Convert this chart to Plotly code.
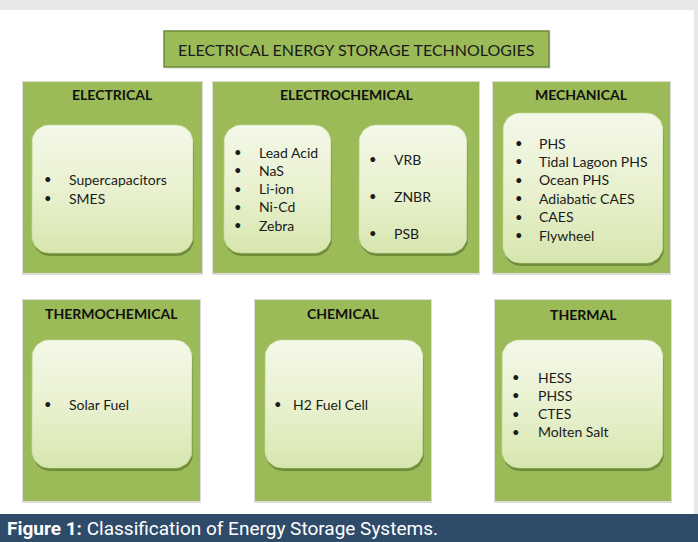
import numpy as np
import plotly.graph_objects as go

# ---------------- data ----------------
title_text = "ELECTRICAL ENERGY STORAGE TECHNOLOGIES"
categories = ["ELECTRICAL", "ELECTROCHEMICAL", "MECHANICAL",
              "THERMOCHEMICAL", "CHEMICAL", "THERMAL"]
electrical_items = ["Supercapacitors", "SMES"]
electrochem_batteries = ["Lead Acid", "NaS", "Li-ion", "Ni-Cd", "Zebra"]
electrochem_flow = ["VRB", "ZNBR", "PSB"]
mechanical_items = ["PHS", "Tidal Lagoon PHS", "Ocean PHS", "Adiabatic CAES", "CAES", "Flywheel"]
thermochemical_items = ["Solar Fuel"]
chemical_items = ["H2 Fuel Cell"]
thermal_items = ["HESS", "PHSS", "CTES", "Molten Salt"]
caption_bold = "Figure 1:"
caption_text = "Classification of Energy Storage Systems."

# ---------------- layout geometry (pixels) ----------------
W, H = 698, 542
GREEN = "#9bbb59"
FONT = "Lato"

panels = [  # x0, x1, y0, y1, header_y
    (23, 202, 82, 273, 94),
    (213, 479, 82, 273, 94),
    (493, 670, 82, 273, 94),
    (23, 200, 300, 501, 313),
    (255, 431, 300, 501, 313),
    (495, 671, 300, 501, 314),
]

# inner boxes: x0, x1, y0, y1, items, bullet_x, text_x, first_y, step
inner = [
    (32, 193, 125, 253, electrical_items, 48, 67, 179, 19),
    (224, 331, 125, 253, electrochem_batteries, 238, 257, 152, 18.3),
    (359, 467, 125, 253, electrochem_flow, 373, 392, 159, 37),
    (503, 663, 113, 263, mechanical_items, 519, 537, 143, 18.4),
    (32, 192, 340, 468, thermochemical_items, 48, 67, 404, 19),
    (265, 423, 340, 468, chemical_items, 278, 291, 404, 19),
    (502, 663, 340, 468, thermal_items, 516, 536, 377, 18.3),
]


def rounded(x0, x1, y0, y1, r=17, n=10):
    xs, ys = [], []
    corners = [(x1 - r, y0 + r, -90, 0), (x1 - r, y1 - r, 0, 90),
               (x0 + r, y1 - r, 90, 180), (x0 + r, y0 + r, 180, 270)]
    for cx, cy, a0, a1 in corners:
        for t in np.linspace(np.radians(a0), np.radians(a1), n):
            xs.append(cx + r * np.cos(t))
            ys.append(cy + r * np.sin(t))
    xs.append(xs[0]); ys.append(ys[0])
    return xs, ys


fig = go.Figure()
shapes = []
annotations = []

# background gray band at top and right strip
shapes.append(dict(type="rect", x0=0, x1=W, y0=0, y1=10, fillcolor="#e6e7e9",
                   line=dict(width=0), layer="below"))
shapes.append(dict(type="rect", x0=694, x1=W, y0=0, y1=514, fillcolor="#e6e7e9",
                   line=dict(width=0), layer="below"))

# title box
shapes.append(dict(type="rect", x0=166, x1=551, y0=33, y1=69, fillcolor="#e4e4e4",
                   line=dict(width=0), layer="below", opacity=0.7))
shapes.append(dict(type="rect", x0=164, x1=549, y0=31, y1=67, fillcolor=GREEN,
                   line=dict(width=1.5, color="#6d8a3a"), layer="below"))
annotations.append(dict(x=356, y=49, text=title_text, showarrow=False,
                        font=dict(family=FONT, size=16, color="#1a1a1a"),
                        xanchor="center", yanchor="middle"))

# panels
for (x0, x1, y0, y1, hy), cat in zip(panels, categories):
    shapes.append(dict(type="rect", x0=x0 - 1, x1=x1 + 1, y0=y0 - 1, y1=y1 + 2,
                       fillcolor="#dcdcdc", line=dict(width=0), layer="below"))
    shapes.append(dict(type="rect", x0=x0, x1=x1, y0=y0, y1=y1, fillcolor=GREEN,
                       line=dict(width=0), layer="below"))
    annotations.append(dict(x=(x0 + x1) / 2, y=hy, text="<b>" + cat + "</b>",
                            showarrow=False,
                            font=dict(family=FONT, size=14, color="#111111"),
                            xanchor="center", yanchor="middle"))

# inner rounded boxes
for (x0, x1, y0, y1, items, bx, tx, fy, step) in inner:
    sx, sy = rounded(x0 + 1, x1 + 1, y0 + 3, y1 + 3)
    fig.add_trace(go.Scatter(x=sx, y=sy, mode="lines", fill="toself",
                             fillcolor="#6f8c3a", line=dict(width=0),
                             hoverinfo="skip", showlegend=False))
    rx, ry = rounded(x0, x1, y0, y1)
    fig.add_trace(go.Scatter(
        x=rx, y=ry, mode="lines", fill="toself",
        fillgradient=dict(type="vertical", start=y0, stop=y1,
                          colorscale=[[0, "#f4f8e8"], [0.5, "#e9f1d0"], [1, "#d7e6ae"]]),
        line=dict(width=0.6, color="#c9dba0"),
        hoverinfo="skip", showlegend=False))
    for i, it in enumerate(items):
        yy = fy + i * step
        annotations.append(dict(x=bx, y=yy, text="•", showarrow=False,
                                font=dict(family=FONT, size=13, color="#1a1a1a"),
                                xanchor="center", yanchor="middle"))
        annotations.append(dict(x=tx, y=yy, text=it, showarrow=False,
                                font=dict(family=FONT, size=14, color="#1a1a1a"),
                                xanchor="left", yanchor="middle"))

# caption band
shapes.append(dict(type="rect", x0=0, x1=W, y0=514, y1=H, fillcolor="#2f4b6a",
                   line=dict(width=0), layer="above"))
annotations.append(dict(x=5, y=528, text="<b>" + caption_bold + "</b> " + caption_text,
                        showarrow=False,
                        font=dict(family="Roboto", size=19, color="#ffffff"),
                        xanchor="left", yanchor="middle"))

fig.update_layout(
    width=W, height=H,
    margin=dict(l=0, r=0, t=0, b=0),
    paper_bgcolor="white", plot_bgcolor="white",
    xaxis=dict(range=[0, W], visible=False, fixedrange=True),
    yaxis=dict(range=[H, 0], visible=False, fixedrange=True),
    shapes=shapes, annotations=annotations,
    showlegend=False,
)
fig.write_html("out.html", config={"displayModeBar": False},
               post_script="document.body.style.margin='0';document.body.style.overflow='hidden';")
